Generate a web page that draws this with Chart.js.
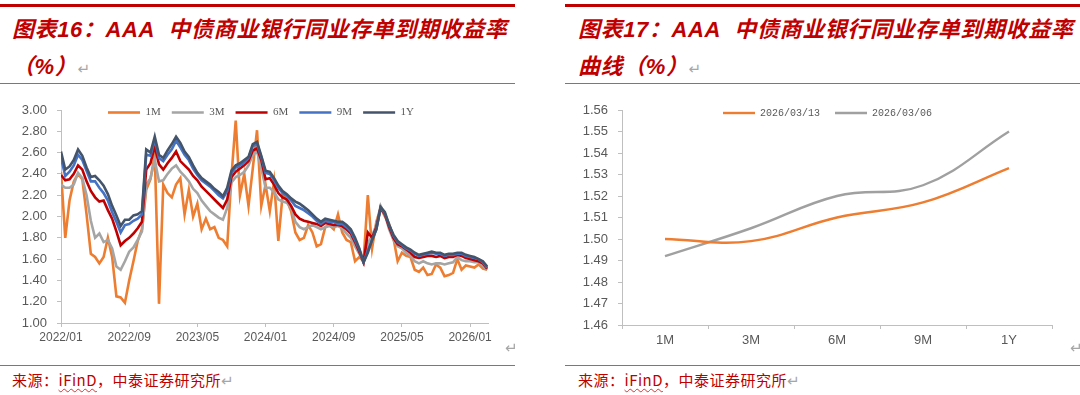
<!DOCTYPE html>
<html><head><meta charset="utf-8">
<script src="https://cdn.jsdelivr.net/npm/chart.js@4.4.1/dist/chart.umd.min.js"></script>
<style>
html,body{margin:0;padding:0;background:#fff;width:1080px;height:395px;overflow:hidden;position:relative;font-family:"Liberation Sans","Noto Sans CJK SC",sans-serif;}
.abs{position:absolute;}
.thick{height:3px;background:#C00000;}
.thin{height:1px;background:#C65858;}
.title{color:#C00000;font-weight:bold;font-style:italic;font-size:22px;line-height:22px;white-space:nowrap;letter-spacing:0.6px;font-family:"Liberation Sans","Noto Sans CJK SC",sans-serif;}
.ret{color:#A6A6A6;font-style:normal;font-weight:normal;font-size:15px;font-family:"DejaVu Sans",sans-serif;letter-spacing:0;}
.src{color:#C00000;font-size:15px;line-height:16px;white-space:nowrap;letter-spacing:0.5px;font-family:"Noto Sans CJK SC",sans-serif;}
.wavy{text-decoration:underline wavy #E03030;text-decoration-thickness:1px;text-underline-offset:2px;}
</style></head>
<body>
<div class="abs thick" style="left:0;top:4px;width:515px;"></div>
<div class="abs thick" style="left:565px;top:4px;width:515px;"></div>
<div class="abs title" style="left:12px;top:19px;">图表16：AAA&nbsp;&nbsp;中债商业银行同业存单到期收益率</div>
<div class="abs title" style="left:12px;top:56px;">（%）<span class="ret">&#8629;</span></div>
<div class="abs title" style="left:578px;top:19px;">图表17：AAA&nbsp;&nbsp;中债商业银行同业存单到期收益率</div>
<div class="abs title" style="left:578px;top:56px;">曲线（%）<span class="ret">&#8629;</span></div>
<div class="abs thin" style="left:0;top:83px;width:515px;"></div>
<div class="abs thin" style="left:565px;top:83px;width:515px;"></div>

<div class="abs" style="left:0;top:78px;width:515px;height:277px;"><canvas id="c1" width="515" height="277"></canvas></div>
<div class="abs" style="left:560px;top:75px;width:520px;height:280px;"><canvas id="c2" width="520" height="280"></canvas></div>

<div class="abs ret" style="left:505px;top:339px;">&#8629;</div>
<div class="abs ret" style="left:1070px;top:339px;">&#8629;</div>
<div class="abs thin" style="left:0;top:365px;width:515px;"></div>
<div class="abs thin" style="left:565px;top:365px;width:515px;"></div>
<div class="abs src" style="left:12px;top:372px;">来源：<span class="wavy">iFinD</span>，中泰证券研究所<span class="ret">&#8629;</span></div>
<div class="abs src" style="left:578px;top:372px;">来源：<span class="wavy">iFinD</span>，中泰证券研究所<span class="ret">&#8629;</span></div>

<script>
// ---------- Chart 16 data (semi-monthly observations, 2022/01 - 2026/03) ----------
const seriesNames16 = ['1M','3M','6M','9M','1Y'];
const xTickLabels16 = ['2022/01','2022/09','2023/05','2024/01','2024/09','2025/05','2026/01'];
const startYear = 2022;
const obsCount = 101;
const dates16 = [];
for (let i = 0; i < obsCount; i++) {
  const mi = Math.floor(i / 2);
  const y = startYear + Math.floor(mi / 12), mo = mi % 12 + 1, d = (i % 2) ? 16 : 1;
  dates16.push(y + '/' + String(mo).padStart(2,'0') + '/' + String(d).padStart(2,'0'));
}
const y1M = [
2.42,1.80,2.15,2.33,2.40,2.35,2.02,1.65,1.62,1.56,
1.62,1.80,1.62,1.25,1.24,1.19,1.40,1.58,1.77,1.88,
2.25,2.35,2.58,1.18,2.30,2.22,2.18,2.30,2.36,2.02,
2.25,2.00,2.12,1.88,1.98,1.88,1.90,1.80,1.78,1.72,
2.38,2.90,2.20,2.40,2.10,2.45,2.81,2.10,2.30,2.05,
2.33,1.77,2.20,2.15,2.05,1.85,1.78,1.80,1.92,1.85,
1.72,1.74,1.90,1.92,1.88,2.02,1.85,1.78,1.76,1.58,
1.62,1.58,2.20,1.70,1.95,2.08,2.00,1.93,1.80,1.58,
1.66,1.63,1.62,1.50,1.48,1.52,1.45,1.46,1.55,1.52,
1.44,1.45,1.47,1.60,1.50,1.54,1.53,1.52,1.55,1.51,
1.50];
const y3M = [
2.30,2.27,2.27,2.30,2.41,2.36,2.20,1.96,1.80,1.84,
1.76,1.78,1.70,1.53,1.50,1.58,1.67,1.71,1.78,1.86,
2.30,2.36,2.53,2.33,2.34,2.40,2.45,2.48,2.42,2.38,
2.33,2.26,2.22,2.15,2.10,2.05,2.02,1.99,1.97,2.08,
2.32,2.37,2.39,2.42,2.48,2.58,2.61,2.45,2.27,2.27,
2.23,2.16,2.14,2.13,2.08,1.95,1.90,1.88,1.90,1.92,
1.90,1.88,1.90,1.91,1.90,1.91,1.89,1.84,1.80,1.72,
1.65,1.57,1.75,1.82,1.92,2.10,2.02,1.88,1.78,1.72,
1.70,1.66,1.63,1.58,1.56,1.58,1.56,1.55,1.56,1.56,
1.55,1.56,1.57,1.62,1.59,1.58,1.58,1.57,1.57,1.54,
1.50];
const y6M = [
2.39,2.34,2.35,2.40,2.48,2.44,2.33,2.24,2.18,2.14,
2.15,2.06,1.98,1.86,1.73,1.77,1.80,1.84,1.89,1.95,
2.44,2.50,2.66,2.49,2.44,2.50,2.55,2.61,2.52,2.48,
2.44,2.38,2.34,2.28,2.24,2.20,2.16,2.12,2.08,2.16,
2.37,2.42,2.45,2.48,2.52,2.62,2.64,2.53,2.35,2.36,
2.30,2.22,2.18,2.16,2.10,2.02,1.98,1.96,1.95,1.94,
1.93,1.91,1.94,1.93,1.92,1.92,1.91,1.88,1.84,1.76,
1.67,1.57,1.85,1.80,1.90,2.08,2.02,1.90,1.80,1.74,
1.72,1.69,1.66,1.62,1.61,1.62,1.63,1.63,1.62,1.63,
1.61,1.62,1.62,1.64,1.63,1.61,1.60,1.59,1.58,1.56,
1.51];
const y9M = [
2.55,2.38,2.42,2.48,2.58,2.53,2.43,2.33,2.33,2.27,
2.22,2.15,2.04,1.95,1.85,1.92,1.93,1.96,1.98,2.02,
2.58,2.57,2.72,2.55,2.52,2.58,2.63,2.71,2.65,2.58,
2.53,2.45,2.39,2.34,2.31,2.28,2.24,2.20,2.17,2.24,
2.41,2.46,2.48,2.51,2.55,2.66,2.68,2.56,2.41,2.40,
2.34,2.27,2.22,2.19,2.15,2.10,2.08,2.06,2.03,2.00,
1.96,1.93,1.96,1.95,1.95,1.93,1.93,1.90,1.86,1.78,
1.69,1.57,1.68,1.78,1.88,2.08,2.03,1.92,1.82,1.76,
1.73,1.70,1.68,1.65,1.63,1.64,1.65,1.66,1.65,1.65,
1.63,1.64,1.64,1.65,1.65,1.63,1.62,1.61,1.60,1.57,
1.52];
const y1Y = [
2.61,2.44,2.47,2.53,2.63,2.57,2.46,2.37,2.38,2.34,
2.29,2.21,2.10,2.01,1.91,1.97,1.97,2.01,2.02,2.05,
2.63,2.60,2.75,2.58,2.55,2.62,2.68,2.75,2.69,2.61,
2.56,2.48,2.41,2.36,2.33,2.30,2.26,2.23,2.19,2.27,
2.43,2.48,2.50,2.53,2.56,2.68,2.70,2.57,2.43,2.42,
2.36,2.29,2.24,2.21,2.17,2.14,2.12,2.09,2.06,2.02,
1.98,1.95,1.98,1.97,1.96,1.95,1.95,1.92,1.88,1.80,
1.70,1.57,1.66,1.78,1.88,2.09,2.04,1.92,1.83,1.77,
1.74,1.71,1.69,1.66,1.64,1.65,1.66,1.67,1.66,1.66,
1.64,1.65,1.65,1.66,1.66,1.64,1.63,1.62,1.60,1.58,
1.53];

// ---------- Chart 17 data ----------
const tenors17 = ['1M','3M','6M','9M','1Y'];
const curve0313 = [1.500,1.499,1.510,1.517,1.533];
const curve0306 = [1.492,1.505,1.520,1.525,1.550];

// ---------- helpers ----------
function monthOffset(s){ const p = s.split('/').map(Number); return (p[0]-startYear)*12 + (p[1]-1) + ((p[2]||1)-1)/30; }
const xVals16 = dates16.map(monthOffset);
const tickVals16 = xTickLabels16.map(monthOffset);

// moves the legend (laid out on top) into the plot area
const legendShift = {
  id:'legendShift',
  afterLayout(chart, args, opts){
    const l = chart.legend; if(!l || !l.options.display) return;
    const lo = l.options.labels; const pad = lo.padding;
    const fs = Chart.helpers.toFont(lo.font).size;
    const dx = (opts.startX != null ? opts.startX : (l.left + pad)) - (l.left + pad);
    const dy = (chart.chartArea.top + (opts.centerBelowTop || 0)) - (l.top + pad + fs/2);
    l.left += dx; l.right += dx; l.top += dy; l.bottom += dy;
  }
};
Chart.register(legendShift);

const axisColor = '#BFBFBF', tickColor = '#595959';

const colors16 = ['#ED7D31','#A5A5A5','#C00000','#4472C4','#44546A'];
const vals16 = [y1M,y3M,y6M,y9M,y1Y];

new Chart(document.getElementById('c1'), {
  type:'line',
  data:{
    labels: xVals16,
    datasets: seriesNames16.map((n,i)=>({
      label:n, data: vals16[i], borderColor: colors16[i], backgroundColor: colors16[i],
      borderWidth: 2.6, pointRadius:0, tension:0, order: 5-i
    }))
  },
  options:{
    responsive:false, animation:false, events:[],
    layout:{padding:{left:0,right:27,top:0,bottom:0}},
    plugins:{
      legend:{position:'top', align:'start', reverse:true,
        labels:{usePointStyle:true, pointStyle:'line', pointStyleWidth:32, padding:11, color:'#595959',
          font:{size:11, family:'Liberation Serif'}}},
      legendShift:{startX:108, centerBelowTop:2.5},
      tooltip:{enabled:false}
    },
    scales:{
      x:{type:'linear', min:0, max:50.1,
        afterBuildTicks:(s)=>{ s.ticks = tickVals16.map(v=>({value:v})); },
        ticks:{autoSkip:false, maxRotation:0, color:tickColor, padding:3,
          font:{size:12, family:'Liberation Sans'},
          callback:(v)=>{ const k = tickVals16.indexOf(v); return k>=0 ? xTickLabels16[k] : ''; }},
        grid:{display:true, drawOnChartArea:false, drawTicks:true, tickLength:4, color:axisColor},
        border:{display:true, color:axisColor, width:1},
        afterFit:(s)=>{ s.height = 32; }
      },
      y:{min:1, max:3,
        ticks:{stepSize:0.2, color:tickColor, padding:10, font:{size:13, family:'Liberation Sans'},
          callback:(v)=>Number(v).toFixed(2)},
        grid:{display:true, drawOnChartArea:false, drawTicks:true, tickLength:4, color:axisColor},
        border:{display:true, color:axisColor, width:1},
        afterFit:(s)=>{ s.width = 61; }
      }
    }
  }
});

new Chart(document.getElementById('c2'), {
  type:'line',
  data:{
    labels: tenors17,
    datasets:[
      {label:'2026/03/13', data:curve0313, borderColor:'#ED7D31', backgroundColor:'#ED7D31', borderWidth:2.4, pointRadius:0, tension:0.4},
      {label:'2026/03/06', data:curve0306, borderColor:'#A0A0A0', backgroundColor:'#A0A0A0', borderWidth:2.4, pointRadius:0, tension:0.4}
    ]
  },
  options:{
    responsive:false, animation:false, events:[],
    layout:{padding:{left:0,right:28,top:0,bottom:0}},
    plugins:{
      legend:{position:'top', align:'start',
        labels:{usePointStyle:true, pointStyle:'line', pointStyleWidth:32, padding:15, color:'#595959',
          font:{size:10, family:'Liberation Mono'}}},
      legendShift:{startX:163, centerBelowTop:3},
      tooltip:{enabled:false}
    },
    scales:{
      x:{type:'category', offset:true,
        ticks:{color:tickColor, padding:4, font:{size:13, family:'Liberation Sans'}, maxRotation:0},
        grid:{display:true, offset:true, drawOnChartArea:false, drawTicks:true, tickLength:4, color:axisColor},
        border:{display:true, color:axisColor, width:1},
        afterFit:(s)=>{ s.height = 30; }
      },
      y:{min:1.46, max:1.56,
        ticks:{stepSize:0.01, color:tickColor, padding:10, font:{size:13, family:'Liberation Sans'},
          callback:(v)=>Number(v).toFixed(2)},
        grid:{display:true, drawOnChartArea:false, drawTicks:true, tickLength:4, color:axisColor},
        border:{display:true, color:axisColor, width:1},
        afterFit:(s)=>{ s.width = 62; }
      }
    }
  }
});
</script>
</body></html>
